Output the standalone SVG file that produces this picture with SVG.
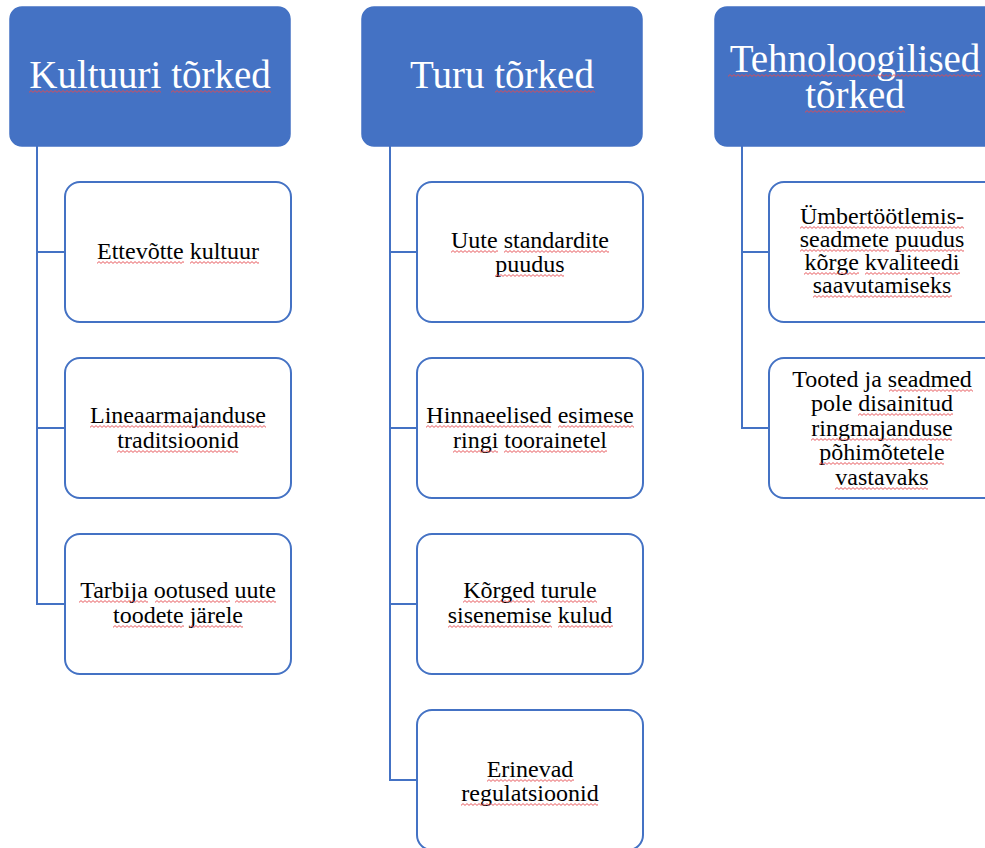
<svg xmlns="http://www.w3.org/2000/svg" width="985" height="848" viewBox="0 0 985 848">
<defs>
<pattern id="wave" width="4" height="3" patternUnits="userSpaceOnUse">
<path d="M0 2.4 L2 0.6 L4 2.4" fill="none" stroke="#E5484D" stroke-width="0.9"/>
</pattern>
</defs>
<style>
.hdr{fill:#4472C4;stroke:#4472C4;stroke-width:1.5}
.box{fill:#FFFFFF;stroke:#4472C4;stroke-width:2}
.conn{fill:none;stroke:#4472C4;stroke-width:2}
.ht{font-family:"Liberation Serif","Times New Roman",serif;font-size:39px;fill:#FFFFFF;text-anchor:middle}
.bt{font-family:"Liberation Serif","Times New Roman",serif;font-size:24px;fill:#000000;text-anchor:middle}
.sq{fill:url(#wave)}
</style>
<rect width="985" height="848" fill="#FFFFFF"/>
<g id="connectors">
<path class="conn" d="M37 146 V605 M37 252 H65 M37 428 H65 M37 604 H65"/>
<path class="conn" d="M390 146 V781 M390 252 H417 M390 428 H417 M390 604 H417 M390 780 H417"/>
<path class="conn" d="M742 146 V429 M742 252 H769 M742 428 H769"/>
</g>
<g id="h1"><rect class="hdr" x="10" y="7" width="280" height="139" rx="12"/>
<text class="ht" x="150" y="88">Kultuuri tõrked</text>
<rect class="sq" width="132" height="3" transform="translate(29,90)"/>
<rect class="sq" width="100" height="3" transform="translate(171,90)"/></g>
<g id="h2"><rect class="hdr" x="362" y="7" width="280" height="139" rx="12"/>
<text class="ht" x="502" y="88">Turu tõrked</text>
<rect class="sq" width="100" height="3" transform="translate(495,90)"/></g>
<g id="h3"><rect class="hdr" x="715" y="7" width="285" height="139" rx="12"/>
<text class="ht" x="855" y="72">Tehnoloogilised</text>
<text class="ht" x="855" y="108">tõrked</text>
<rect class="sq" width="254" height="3" transform="translate(728,74)"/>
<rect class="sq" width="100" height="3" transform="translate(805,110)"/></g>

<g id="c1a"><rect class="box" x="65" y="182" width="226" height="140" rx="15"/>
<text class="bt" x="178" y="259">Ettevõtte kultuur</text>
<rect class="sq" width="87" height="3" transform="translate(97,261)"/>
<rect class="sq" width="69" height="3" transform="translate(190,261)"/></g>
<g id="c1b"><rect class="box" x="65" y="358" width="226" height="140" rx="15"/>
<text class="bt" x="178" y="423">Lineaarmajanduse</text>
<text class="bt" x="178" y="448">traditsioonid</text>
<rect class="sq" width="176" height="3" transform="translate(90,425)"/>
<rect class="sq" width="121" height="3" transform="translate(117,450)"/></g>
<g id="c1c"><rect class="box" x="65" y="534" width="226" height="140" rx="15"/>
<text class="bt" x="178" y="598">Tarbija ootused uute</text>
<text class="bt" x="178" y="623">toodete järele</text>
<rect class="sq" width="69" height="3" transform="translate(79,600)"/>
<rect class="sq" width="75" height="3" transform="translate(155,600)"/>
<rect class="sq" width="41" height="3" transform="translate(235,600)"/>
<rect class="sq" width="71" height="3" transform="translate(113,625)"/>
<rect class="sq" width="53" height="3" transform="translate(190,625)"/></g>

<g id="c2a"><rect class="box" x="417" y="182" width="226" height="140" rx="15"/>
<text class="bt" x="530" y="248">Uute standardite</text>
<text class="bt" x="530" y="272">puudus</text>
<rect class="sq" width="47" height="3" transform="translate(451,250)"/>
<rect class="sq" width="105" height="3" transform="translate(504,250)"/>
<rect class="sq" width="69" height="3" transform="translate(495,274)"/></g>
<g id="c2b"><rect class="box" x="417" y="358" width="226" height="140" rx="15"/>
<text class="bt" x="530" y="423">Hinnaeelised esimese</text>
<text class="bt" x="530" y="448">ringi toorainetel</text>
<rect class="sq" width="125" height="3" transform="translate(426,425)"/>
<rect class="sq" width="76" height="3" transform="translate(558,425)"/>
<rect class="sq" width="45" height="3" transform="translate(453,450)"/>
<rect class="sq" width="103" height="3" transform="translate(504,450)"/></g>
<g id="c2c"><rect class="box" x="417" y="534" width="226" height="140" rx="15"/>
<text class="bt" x="530" y="598">Kõrged turule</text>
<text class="bt" x="530" y="623">sisenemise kulud</text>
<rect class="sq" width="72" height="3" transform="translate(463,600)"/>
<rect class="sq" width="56" height="3" transform="translate(541,600)"/>
<rect class="sq" width="104" height="3" transform="translate(448,625)"/>
<rect class="sq" width="55" height="3" transform="translate(558,625)"/></g>
<g id="c2d"><rect class="box" x="417" y="710" width="226" height="140" rx="15"/>
<text class="bt" x="530" y="777">Erinevad</text>
<text class="bt" x="530" y="801">regulatsioonid</text>
<rect class="sq" width="87" height="3" transform="translate(487,779)"/>
<rect class="sq" width="137" height="3" transform="translate(461,803)"/></g>

<g id="c3a"><rect class="box" x="769" y="182" width="230" height="140" rx="15"/>
<text class="bt" x="882" y="224">Ümbertöötlemis-</text>
<text class="bt" x="882" y="247">seadmete puudus</text>
<text class="bt" x="882" y="270">kõrge kvaliteedi</text>
<text class="bt" x="882" y="293">saavutamiseks</text>
<rect class="sq" width="164" height="3" transform="translate(800,226)"/>
<rect class="sq" width="89" height="3" transform="translate(800,249)"/>
<rect class="sq" width="69" height="3" transform="translate(895,249)"/>
<rect class="sq" width="55" height="3" transform="translate(804,272)"/>
<rect class="sq" width="95" height="3" transform="translate(865,272)"/>
<rect class="sq" width="139" height="3" transform="translate(813,295)"/></g>
<g id="c3b"><rect class="box" x="769" y="358" width="230" height="140" rx="15"/>
<text class="bt" x="882" y="387">Tooted ja seadmed</text>
<text class="bt" x="882" y="411">pole disainitud</text>
<text class="bt" x="882" y="436">ringmajanduse</text>
<text class="bt" x="882" y="460">põhimõtetele</text>
<text class="bt" x="882" y="485">vastavaks</text>
<rect class="sq" width="84" height="3" transform="translate(889,389)"/>
<rect class="sq" width="95" height="3" transform="translate(858,413)"/>
<rect class="sq" width="141" height="3" transform="translate(811,438)"/>
<rect class="sq" width="125" height="3" transform="translate(819,462)"/>
<rect class="sq" width="93" height="3" transform="translate(835,487)"/></g>
</svg>
